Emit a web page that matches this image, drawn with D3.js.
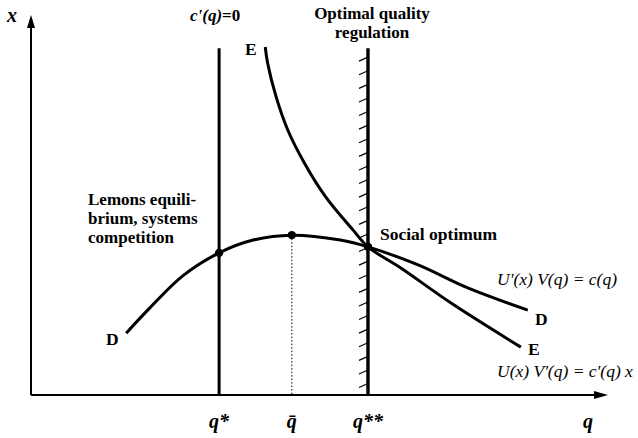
<!DOCTYPE html>
<html>
<head>
<meta charset="utf-8">
<script src="https://cdn.jsdelivr.net/npm/d3@7"></script>
<style>
  html, body { margin: 0; padding: 0; background: #fff; }
  svg text { font-family: "Liberation Serif", "Times New Roman", serif; fill: #000; }
</style>
</head>
<body>
<div id="app"></div>
<script>
// Schematic chart: q on the horizontal axis, x on the vertical axis (arbitrary units 0..10)
const qStar = 3.26;      // lemons equilibrium
const qBar = 4.52;       // peak of D curve
const qStarStar = 5.84;  // social optimum / optimal regulation
const lineTop = 9.2;     // top of the two vertical lines

const tickValues = [qStar, qBar, qStarStar];
const tickLabels = ["q*", "q\u0304", "q**"];

// D curve: U'(x) V(q) = c(q)
const curveD = [
  [1.65, 1.64], [2.06, 2.31], [2.63, 3.16], [3.26, 3.77], [3.85, 4.11],
  [4.52, 4.24], [5.36, 4.11], [5.84, 3.93], [6.71, 3.45], [7.57, 2.84], [8.61, 2.25]
];
// E curve: U(x) V'(q) = c'(q) x
const curveE = [
  [4.06, 9.23], [4.10, 8.81], [4.25, 7.90], [4.45, 7.03], [4.74, 6.15],
  [5.11, 5.25], [5.58, 4.38], [5.84, 3.93], [6.41, 3.37], [7.28, 2.44], [8.49, 1.27]
];
// marked points
const dots = [[3.26, 3.77], [4.52, 4.24], [5.84, 3.93]];

const width = 638, height = 438;
const x = d3.scaleLinear().domain([0, 10]).range([31, 608]);
const y = d3.scaleLinear().domain([0, 10]).range([395, 18]);

const svg = d3.select("#app").append("svg")
  .attr("width", width)
  .attr("height", height);

// axes with arrowheads
svg.append("line")
  .attr("x1", x(0)).attr("y1", y(0))
  .attr("x2", x(10) - 10).attr("y2", y(0))
  .attr("stroke", "#000").attr("stroke-width", 2);
svg.append("path")
  .attr("d", `M${x(10)},${y(0)} L${x(10) - 14},${y(0) - 4} L${x(10) - 14},${y(0) + 4} Z`)
  .attr("fill", "#000");
svg.append("line")
  .attr("x1", x(0)).attr("y1", y(0))
  .attr("x2", x(0)).attr("y2", y(10) + 8)
  .attr("stroke", "#000").attr("stroke-width", 2);
svg.append("path")
  .attr("d", `M${x(0)},${y(10) - 3} L${x(0) - 4},${y(10) + 10} L${x(0) + 4},${y(10) + 10} Z`)
  .attr("fill", "#000");

// hatching on the left of the regulation line
const hx = x(qStarStar);
svg.append("g")
  .selectAll("line")
  .data(d3.range(y(lineTop) + 9, y(0) - 4, 13.6))
  .join("line")
    .attr("x1", hx - 9).attr("y1", d => d + 4)
    .attr("x2", hx).attr("y2", d => d)
    .attr("stroke", "#000").attr("stroke-width", 1.2);

// vertical lines
[qStar, qStarStar].forEach((q, i) => {
  svg.append("line")
    .attr("x1", x(q)).attr("y1", y(lineTop))
    .attr("x2", x(q)).attr("y2", y(0))
    .attr("stroke", "#000").attr("stroke-width", i ? 3.4 : 3);
});

// dotted drop line at q bar
svg.append("line")
  .attr("x1", x(qBar)).attr("y1", y(dots[1][1]))
  .attr("x2", x(qBar)).attr("y2", y(0))
  .attr("stroke", "#000").attr("stroke-width", 1)
  .attr("stroke-dasharray", "1.5,2");

// curves
const line = d3.line()
  .x(d => x(d[0]))
  .y(d => y(d[1]))
  .curve(d3.curveCatmullRom);

[curveD, curveE].forEach(c => {
  svg.append("path")
    .attr("d", line(c))
    .attr("fill", "none")
    .attr("stroke", "#000")
    .attr("stroke-width", 3);
});

svg.append("g")
  .selectAll("circle")
  .data(dots)
  .join("circle")
    .attr("cx", d => x(d[0]))
    .attr("cy", d => y(d[1]))
    .attr("r", 4.2)
    .attr("fill", "#000");

// tick labels on q axis
svg.append("g")
  .selectAll("text")
  .data(tickValues)
  .join("text")
    .attr("x", d => x(d))
    .attr("y", 428)
    .attr("text-anchor", "middle")
    .attr("font-size", 20)
    .attr("font-style", "italic")
    .attr("font-weight", "bold")
    .text((d, i) => tickLabels[i]);

// axis names
svg.append("text").attr("x", 588).attr("y", 428)
  .attr("text-anchor", "middle").attr("font-size", 20)
  .attr("font-style", "italic").attr("font-weight", "bold").text("q");
svg.append("text").attr("x", 12).attr("y", 22)
  .attr("text-anchor", "middle").attr("font-size", 20)
  .attr("font-style", "italic").attr("font-weight", "bold").text("x");

// labels
function label(tx, ty, str, opts = {}) {
  return svg.append("text")
    .attr("x", tx).attr("y", ty)
    .attr("text-anchor", opts.anchor || "start")
    .attr("font-size", opts.size || 17)
    .attr("font-weight", opts.weight || "bold")
    .attr("font-style", opts.style || "normal")
    .text(str);
}

const cq = svg.append("text")
  .attr("x", x(qStar) - 4).attr("y", 21)
  .attr("text-anchor", "middle")
  .attr("font-size", 17).attr("font-weight", "bold");
cq.append("tspan").attr("font-style", "italic").text("c'(q)");
cq.append("tspan").text("=0");

label(372, 19, "Optimal quality", { anchor: "middle" });
label(372, 38, "regulation", { anchor: "middle" });

label(88, 205, "Lemons equili-");
label(88, 224, "brium, systems");
label(88, 243, "competition");

label(380, 240, "Social optimum", { size: 17.5 });

label(245, 55, "E", { size: 17.5 });
label(106, 345, "D", { size: 17.5 });
label(535, 325, "D", { size: 17.5 });
label(528, 355, "E", { size: 17.5 });

label(497, 285, "U'(x) V(q) = c(q)", { style: "italic", weight: "normal", size: 17.5 });
label(497, 377, "U(x) V'(q) = c'(q) x", { style: "italic", weight: "normal", size: 17.5 });
</script>
</body>
</html>
